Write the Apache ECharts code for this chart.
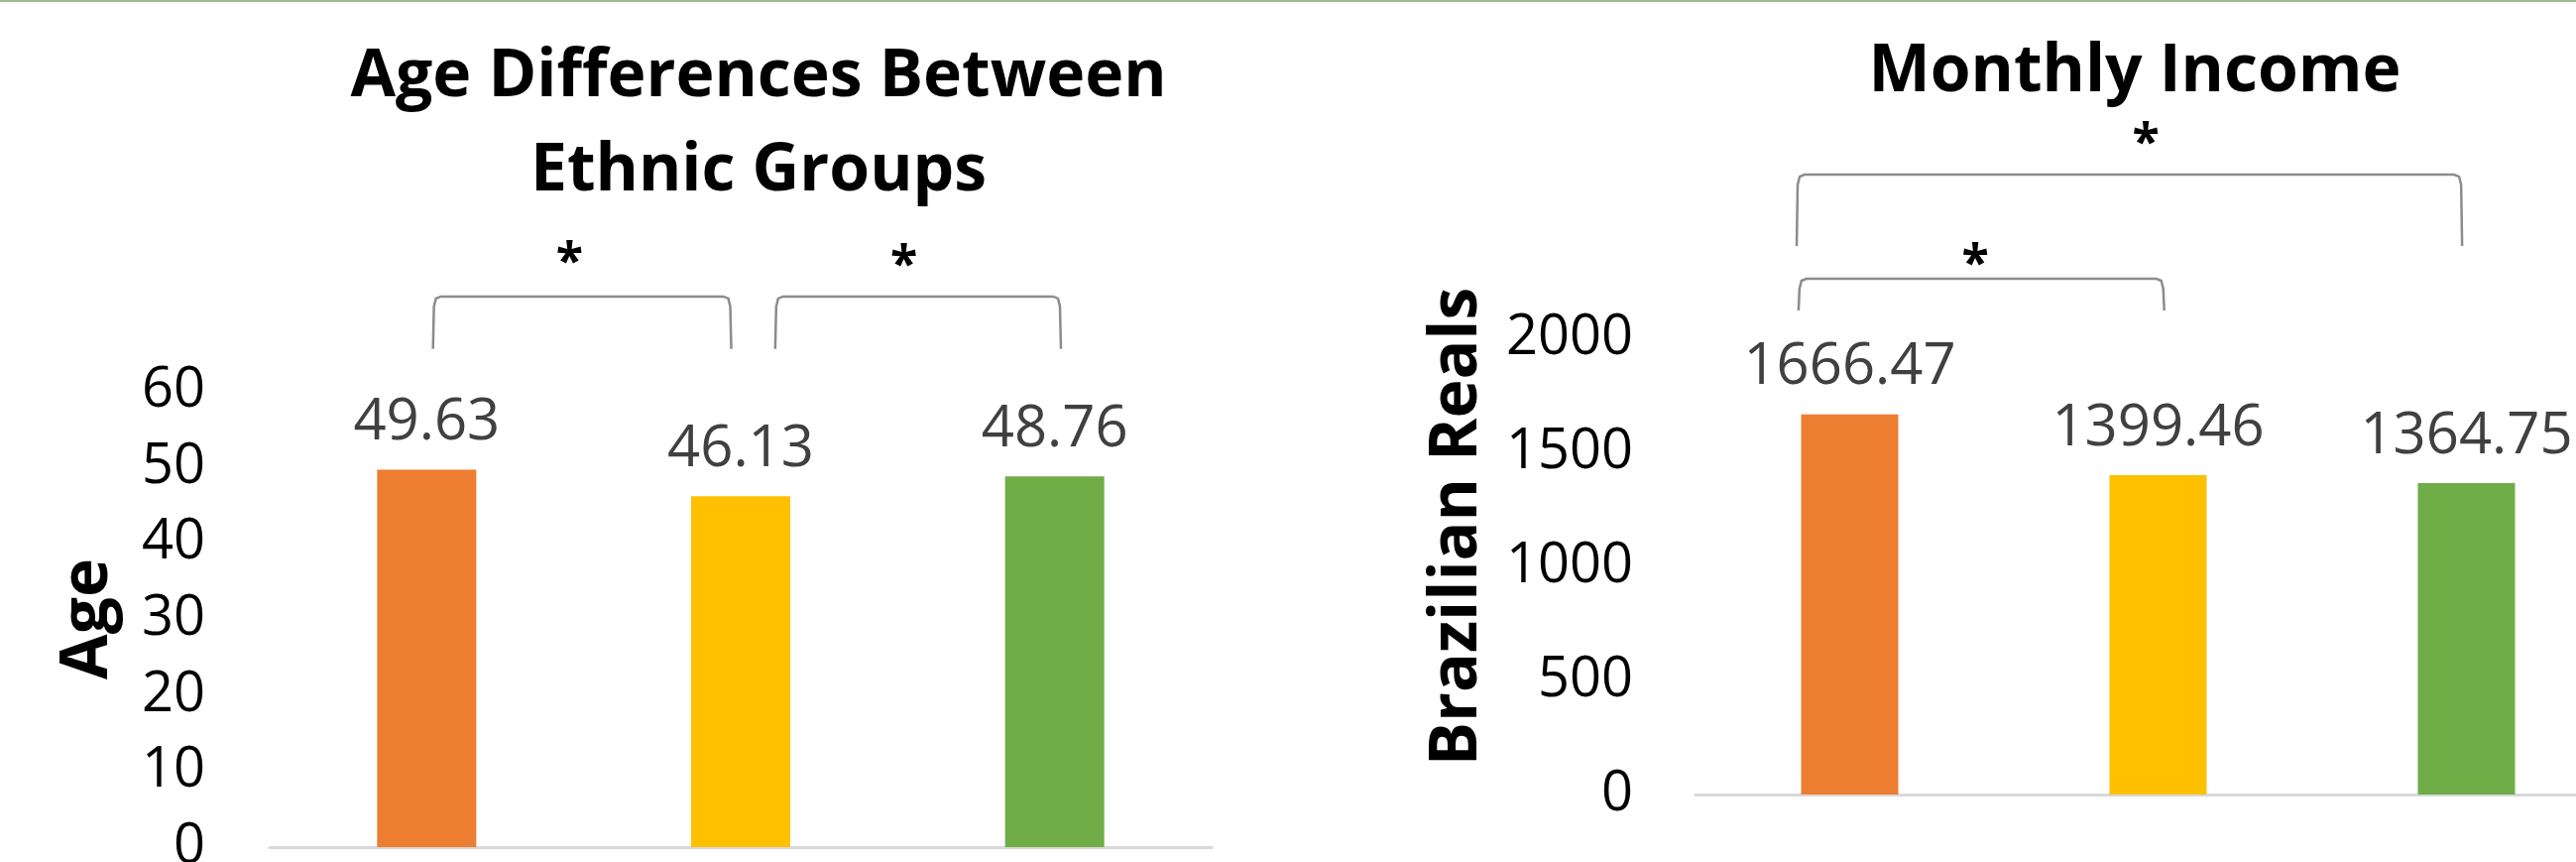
<!DOCTYPE html>
<html>
<head>
<meta charset="utf-8">
<script src="https://cdn.jsdelivr.net/npm/echarts@6/dist/echarts.min.js"></script>
<style>
html,body{margin:0;padding:0;background:#fff;}
#c{width:2598px;height:869px;}
</style>
</head>
<body>
<div id="c"></div>
<script>
// ---- data ----
const categories = ['Group 1', 'Group 2', 'Group 3'];
const ageValues = [49.63, 46.13, 48.76];
const incomeValues = [1666.47, 1399.46, 1364.75];
const barColors = ['#ED7D31', '#FFC000', '#70AD47'];
const ageTicks = [0, 10, 20, 30, 40, 50, 60];
const incomeTicks = [0, 500, 1000, 1500, 2000];

// significance brackets (category-index units / data units)
const ageBrackets = [
  {from: 0.02, to: 0.97, top: 72.4, foot: 65.5, starX: 0.455, starY: 78.0},
  {from: 1.11, to: 2.02, top: 72.4, foot: 65.5, starX: 1.52, starY: 77.6}
];
const incomeBrackets = [
  {from: -0.172, to: 1.986, top: 2717, foot: 2404, starX: 0.96, starY: 2891},
  {from: -0.166, to: 1.02, top: 2261, foot: 2122, starX: 0.407, starY: 2361}
];

const FONT = '"Open Sans", "Liberation Sans", sans-serif';
const chart = echarts.init(document.getElementById('c'));

function yAxisCfg(idx, ticks, margin) {
  return {
    type: 'value', gridIndex: idx,
    min: ticks[0], max: ticks[ticks.length - 1], interval: ticks[1] - ticks[0],
    axisLine: {show: false}, axisTick: {show: false}, splitLine: {show: false},
    axisLabel: {fontFamily: FONT, fontSize: 56, color: '#000', margin: margin,
                formatter: v => String(v)}
  };
}
function xAxisCfg(idx) {
  return {
    type: 'category', gridIndex: idx, data: categories,
    axisLine: {show: true, lineStyle: {color: '#d9d9d9', width: 3}},
    axisTick: {show: false}, axisLabel: {show: false}
  };
}
function barSeries(idx, values, width) {
  return {
    type: 'bar', xAxisIndex: idx, yAxisIndex: idx, barWidth: width,
    data: values.map((v, i) => ({value: v, itemStyle: {color: barColors[i]}})),
    label: {show: true, position: 'top', distance: 18, fontFamily: FONT, fontSize: 58, color: '#404040'}
  };
}

chart.setOption({
  animation: false,
  title: [
    {text: 'Age Differences Between\nEthnic Groups', left: 760, top: 26, textAlign: 'center',
     textStyle: {fontFamily: FONT, fontWeight: 'bold', fontSize: 66, lineHeight: 95, color: '#000'}},
    {text: 'Monthly Income', left: 2148, top: 21, textAlign: 'center',
     textStyle: {fontFamily: FONT, fontWeight: 'bold', fontSize: 66, lineHeight: 95, color: '#000'}}
  ],
  grid: [
    {left: 272, top: 394, width: 950, height: 460, outerBoundsMode: 'none', containLabel: false},
    {left: 1710, top: 341, width: 933, height: 460, outerBoundsMode: 'none', containLabel: false}
  ],
  xAxis: [xAxisCfg(0), xAxisCfg(1)],
  yAxis: [yAxisCfg(0, ageTicks, 65), yAxisCfg(1, incomeTicks, 63)],
  series: [barSeries(0, ageValues, 100), barSeries(1, incomeValues, 98)]
});

function px(idx, cat, val) {
  const a = chart.convertToPixel({xAxisIndex: idx, yAxisIndex: idx}, [0, val]);
  const b = chart.convertToPixel({xAxisIndex: idx, yAxisIndex: idx}, [1, val]);
  return [a[0] + cat * (b[0] - a[0]), a[1]];
}

const graphics = [
  {type: 'rect', shape: {x: 0, y: 0, width: 2598, height: 2}, style: {fill: '#9cba8c'}, silent: true},
  {type: 'text', x: 89, y: 624, rotation: Math.PI / 2,
   style: {text: 'Age', font: 'bold 66px ' + FONT, fill: '#000', align: 'center', verticalAlign: 'middle'}},
  {type: 'text', x: 1470, y: 531, rotation: Math.PI / 2,
   style: {text: 'Brazilian Reals', font: 'bold 66px ' + FONT, fill: '#000', align: 'center', verticalAlign: 'middle'}}
];

function addBrackets(idx, list) {
  list.forEach(b => {
    const l = px(idx, b.from, b.top), r = px(idx, b.to, b.top);
    const lf = px(idx, b.from, b.foot), rf = px(idx, b.to, b.foot);
    graphics.push({
      type: 'polyline', silent: true,
      shape: {points: [
        [lf[0], lf[1]], [l[0] + 1, l[1] + 10], [l[0] + 3, l[1] + 2], [l[0] + 8, l[1]],
        [r[0] - 8, r[1]], [r[0] - 3, r[1] + 2], [r[0] - 1, r[1] + 10], [rf[0], rf[1]]
      ]},
      style: {stroke: '#8c8c8c', lineWidth: 2.5, fill: null}
    });
    const s = px(idx, b.starX, b.starY);
    graphics.push({type: 'text', x: s[0], y: s[1] + 10, silent: true,
      style: {text: '*', font: 'bold 50px ' + FONT, fill: '#000', align: 'center', verticalAlign: 'middle'}});
  });
}
addBrackets(0, ageBrackets);
addBrackets(1, incomeBrackets);

chart.setOption({graphic: graphics});
</script>
</body>
</html>
